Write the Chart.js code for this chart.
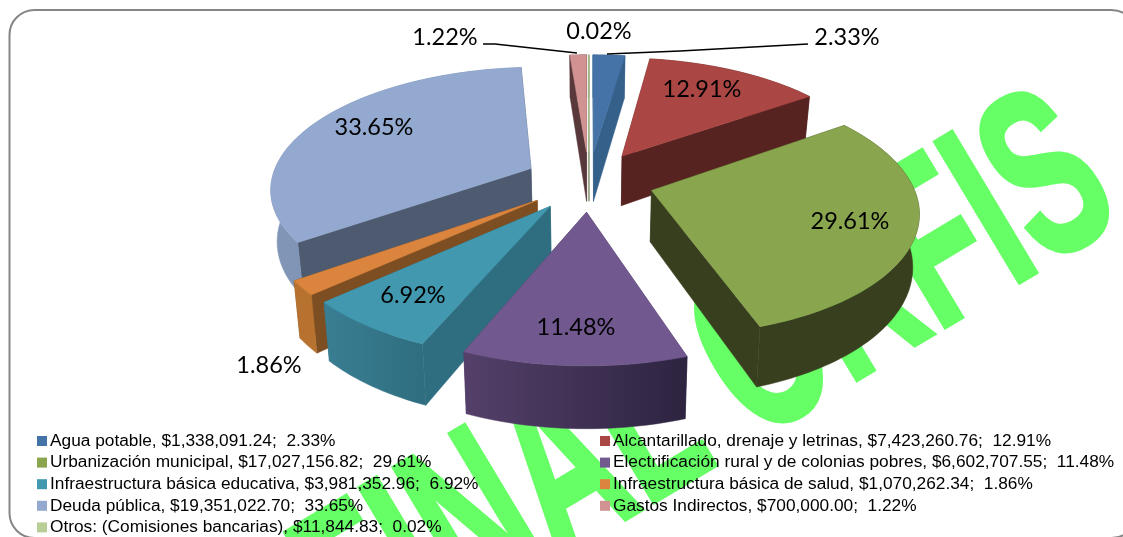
<!DOCTYPE html>
<html>
<head>
<meta charset="utf-8">
<title>Distribución de recursos</title>
<style>
    html, body { margin: 0; padding: 0; background: #fff; overflow: hidden; }
</style>
<script src="https://cdn.jsdelivr.net/npm/chart.js@4"></script>
</head>
<body>
<canvas id="pieChart" width="1123" height="537"></canvas>
<script>
const categories = [
    'Agua potable',
    'Alcantarillado, drenaje y letrinas',
    'Urbanización municipal',
    'Electrificación rural y de colonias pobres',
    'Infraestructura básica educativa',
    'Infraestructura básica de salud',
    'Deuda pública',
    'Gastos Indirectos',
    'Otros: (Comisiones bancarias)'
];
const amounts = [1338091.24, 7423260.76, 17027156.82, 6602707.55, 3981352.96, 1070262.34, 19351022.70, 700000.00, 11844.83];
const percents = ['2.33%', '12.91%', '29.61%', '11.48%', '6.92%', '1.86%', '33.65%', '1.22%', '0.02%'];

// colours of the slices, top face and the two kinds of wall
const topColors = ['#4572A7', '#AA4643', '#89A54E', '#71588F', '#4198AF', '#DB843D', '#93A9CF', '#D19392', '#B9CD96'];
const cutColors = ['#35608A', '#572320', '#383F1E', '#4A3A60', '#2F6E80', '#7E4E23', '#4D5A70', '#58383A', '#7A8862'];
const rimColors = [
    ['#35608A', '#35608A'], ['#572320', '#572320'], ['#383F1E', '#383F1E'],
    ['#54406A', '#2D2440'], ['#3A7E93', '#2F6E80'], ['#B8722F', '#B8722F'],
    ['#8296B8', '#7488AA'], ['#58383A', '#58383A'], ['#7A8862', '#7A8862']
];

// where each percentage sits, Excel style manual placement
const labelSpots = [[847, 37], [702, 89], [850, 221], [576, 327], [413, 295], [269, 365], [374, 127], [445, 37], [599, 31]];
const leaderLines = [
    [[607, 54], [680, 51], [808, 44]],
    [[483, 44], [495, 44], [577, 53]]
];

// perspective camera fitted to the picture, in units of the pie radius
const view = { cx: 589, cy: 181, sx: 260, sy: 120, persp: 0.151, depth: 51, shrink: 0.98, explode: 0.25 };

function project(x, y, low) {
    const s = 1 / (1 - view.persp * y);
    const k = low ? view.shrink : 1;
    return {
        x: view.cx + view.sx * x * s * k,
        y: view.cy + view.sy * y * s + (low ? view.depth * s : 0)
    };
}

// slice point: a is the clock angle, r the fraction of the radius
function slicePoint(mid, a, r, low) {
    const x = view.explode * Math.sin(mid) + r * Math.sin(a);
    const y = -view.explode * Math.cos(mid) - r * Math.cos(a);
    return project(x, y, low);
}

function fillPath(ctx, pts, color) {
    ctx.beginPath();
    pts.forEach((p, i) => (i ? ctx.lineTo(p.x, p.y) : ctx.moveTo(p.x, p.y)));
    ctx.closePath();
    ctx.fillStyle = color;
    ctx.fill();
    ctx.strokeStyle = color;
    ctx.lineWidth = 0.5;
    ctx.stroke();
}

function drawSlice(ctx, arc, index) {
    const a0 = arc.startAngle + Math.PI / 2;
    const a1 = arc.endAngle + Math.PI / 2;
    const mid = (a0 + a1) / 2;
    const apexHigh = slicePoint(mid, a0, 0, false);
    const apexLow = slicePoint(mid, a0, 0, true);

    // cut faces first, the rim and the top go over them
    [a0, a1].forEach(a => {
        fillPath(ctx, [apexHigh, slicePoint(mid, a, 1, false), slicePoint(mid, a, 1, true), apexLow], cutColors[index]);
    });

    const steps = Math.max(2, Math.ceil((a1 - a0) * 40));
    const rimHigh = [];
    const rimLow = [];
    for (let i = 0; i <= steps; i++) {
        const a = a0 + (a1 - a0) * i / steps;
        rimHigh.push(slicePoint(mid, a, 1, false));
        rimLow.push(slicePoint(mid, a, 1, true));
    }

    const xs = rimHigh.map(p => p.x);
    const grad = ctx.createLinearGradient(Math.min(...xs), 0, Math.max(...xs), 0);
    grad.addColorStop(0, rimColors[index][0]);
    grad.addColorStop(1, rimColors[index][1]);
    fillPath(ctx, rimHigh.concat(rimLow.slice().reverse()), grad);

    fillPath(ctx, [apexHigh].concat(rimHigh), topColors[index]);
}

const pie3d = {
    id: 'pie3d',
    beforeDraw(chart) {
        const ctx = chart.ctx;
        ctx.save();

        // watermark sits under everything
        ctx.translate(1126, 218);
        ctx.rotate(-31 * Math.PI / 180);
        ctx.scale(0.6, 1);
        ctx.font = 'bold 237px "Liberation Sans"';
        ctx.textAlign = 'right';
        ctx.textBaseline = 'alphabetic';
        ctx.fillStyle = '#66FF66';
        ctx.strokeStyle = '#66FF66';
        ctx.lineWidth = 5;
        ctx.fillText('FINAL ORFIS', 0, 0);
        ctx.strokeText('FINAL ORFIS', 0, 0);
        ctx.restore();

        // chart frame
        ctx.save();
        ctx.beginPath();
        ctx.roundRect(9.5, 10, 1127, 528, 25);
        ctx.strokeStyle = '#868686';
        ctx.lineWidth = 2;
        ctx.stroke();
        ctx.restore();
    },
    beforeDatasetsDraw(chart) {
        const ctx = chart.ctx;
        const arcs = chart.getDatasetMeta(0).data;
        const order = arcs.map((arc, i) => i).sort((i, j) => {
            const mi = (arcs[i].startAngle + arcs[i].endAngle) / 2 + Math.PI / 2;
            const mj = (arcs[j].startAngle + arcs[j].endAngle) / 2 + Math.PI / 2;
            return Math.cos(mj) - Math.cos(mi);
        });
        ctx.save();
        order.forEach(i => drawSlice(ctx, arcs[i], i));
        ctx.restore();
        return false;
    },
    afterDraw(chart) {
        const ctx = chart.ctx;
        ctx.save();

        // leader lines and percentages
        ctx.strokeStyle = '#000';
        ctx.lineWidth = 1.5;
        leaderLines.forEach(line => {
            ctx.beginPath();
            line.forEach((p, i) => (i ? ctx.lineTo(p[0], p[1]) : ctx.moveTo(p[0], p[1])));
            ctx.stroke();
        });

        ctx.font = '23.5px Lato';
        ctx.textAlign = 'center';
        ctx.textBaseline = 'middle';
        ctx.fillStyle = '#000';
        percents.forEach((text, i) => ctx.fillText(text, labelSpots[i][0], labelSpots[i][1]));

        // legend, two columns filled row by row
        ctx.font = '17.3px "Liberation Sans"';
        ctx.textAlign = 'left';
        categories.forEach((name, i) => {
            const col = i % 2;
            const row = Math.floor(i / 2);
            const x = col ? 600 : 37;
            const y = 441 + row * 21.6;
            const money = amounts[i].toLocaleString('en-US', { minimumFractionDigits: 2, maximumFractionDigits: 2 });
            ctx.fillStyle = topColors[i];
            ctx.fillRect(x, y - 5, 10, 10);
            ctx.fillStyle = '#000';
            ctx.fillText(`${name}, $${money};  ${percents[i]}`, x + 13, y);
        });
        ctx.restore();
    }
};

new Chart(document.getElementById('pieChart').getContext('2d'), {
    type: 'pie',
    data: {
        labels: categories,
        datasets: [{ data: amounts, backgroundColor: topColors }]
    },
    options: {
        responsive: false,
        animation: false,
        events: [],
        plugins: {
            legend: { display: false },
            tooltip: { enabled: false }
        }
    },
    plugins: [pie3d]
});
</script>
</body>
</html>
